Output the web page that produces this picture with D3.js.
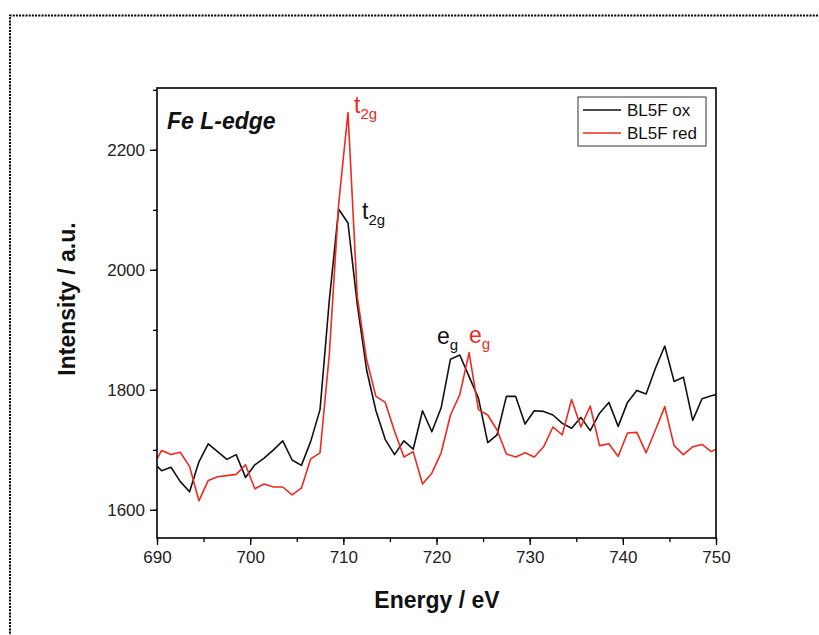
<!DOCTYPE html>
<html>
<head>
<meta charset="utf-8">
<script src="https://cdn.jsdelivr.net/npm/d3@7"></script>
<style>
  body { margin: 0; background: #fff; }
  svg { display: block; font-family: "Liberation Sans", Arial, sans-serif; }
</style>
</head>
<body>
<div id="chart"></div>
<script>
// Energy values (eV) shared by both spectra
const energy = [
    690.0, 690.5, 691.5, 692.5, 693.5, 694.5, 695.5, 696.5, 697.5, 698.5,
    699.5, 700.5, 701.5, 702.5, 703.5, 704.5, 705.5, 706.5, 707.5, 708.5,
    709.5, 710.5, 711.5, 712.5, 713.5, 714.5, 715.5, 716.5, 717.5, 718.5,
    719.5, 720.5, 721.5, 722.5, 723.5, 724.5, 725.5, 726.5, 727.5, 728.5,
    729.5, 730.5, 731.5, 732.5, 733.5, 734.5, 735.5, 736.5, 737.5, 738.5,
    739.5, 740.5, 741.5, 742.5, 743.5, 744.5, 745.5, 746.5, 747.5, 748.5,
    749.5, 750.0
];

const oxValues = [
    1673, 1665, 1671, 1647, 1630, 1680, 1710, 1697, 1684, 1692,
    1654, 1675, 1686, 1700, 1715, 1683, 1674, 1714, 1767, 1950,
    2101, 2078, 1942, 1833, 1765, 1717, 1692, 1715, 1701, 1765,
    1730, 1770, 1851, 1858, 1822, 1786, 1712, 1725, 1789, 1789,
    1743, 1765, 1764, 1758, 1744, 1736, 1754, 1732, 1761, 1779,
    1739, 1779, 1799, 1793, 1836, 1873, 1814, 1821, 1749, 1785,
    1790, 1792
];

const redValues = [
    1685, 1699, 1692, 1696, 1672, 1615, 1649, 1655, 1657, 1659,
    1675, 1635, 1643, 1638, 1638, 1625, 1636, 1685, 1695, 1860,
    2110, 2262, 1955, 1850, 1789, 1779, 1731, 1688, 1697, 1643,
    1661, 1695, 1758, 1792, 1862, 1767, 1758, 1733, 1693, 1688,
    1695, 1688, 1705, 1738, 1725, 1784, 1738, 1773, 1707, 1710,
    1689, 1728, 1729, 1695, 1733, 1772, 1707, 1692, 1705, 1709,
    1697, 1701
];

const xTicks = [690, 700, 710, 720, 730, 740, 750];
const yTicks = [1600, 1800, 2000, 2200];
const seriesNames = ['BL5F ox', 'BL5F red'];

const w = 819;
const h = 635;
const padLeft = 157, padRight = 716, padTop = 88, padBottom = 538;

const svg = d3.select('#chart')
    .append('svg')
    .attr('width', w)
    .attr('height', h);

// dotted page border (top and left edges visible)
svg.append('path')
    .attr('d', 'M10,' + (h + 5) + ' V15.5 H' + (w + 5))
    .attr('fill', 'none')
    .attr('stroke', '#000')
    .attr('stroke-width', 2)
    .attr('stroke-dasharray', '2,1.2');

const xScale = d3.scaleLinear()
    .domain([690, 750])
    .range([padLeft, padRight]);

const yScale = d3.scaleLinear()
    .domain([1553, 2303])
    .range([padBottom, padTop]);

// minor ticks first, majors drawn over them
const xAxisMinor = d3.axisBottom(xScale)
    .tickValues(d3.range(690, 751, 5))
    .tickSize(4)
    .tickFormat('');
const yAxisMinor = d3.axisLeft(yScale)
    .tickValues(d3.range(1600, 2301, 100))
    .tickSize(4)
    .tickFormat('');

const xAxis = d3.axisBottom(xScale)
    .tickValues(xTicks)
    .tickSize(7)
    .tickPadding(6)
    .tickFormat(d3.format('d'));
const yAxis = d3.axisLeft(yScale)
    .tickValues(yTicks)
    .tickSize(7)
    .tickPadding(5)
    .tickFormat(d3.format('d'));

[xAxisMinor, xAxis].forEach((ax) => {
    svg.append('g')
        .attr('transform', 'translate(0,' + padBottom + ')')
        .attr('class', 'bottomAxis')
        .call(ax);
});
[yAxisMinor, yAxis].forEach((ax) => {
    svg.append('g')
        .attr('transform', 'translate(' + padLeft + ',0)')
        .attr('class', 'leftAxis')
        .call(ax);
});

svg.selectAll('.domain').remove();
svg.selectAll('.tick line').attr('stroke', '#000').attr('stroke-width', 1.3);
svg.selectAll('.tick text')
    .attr('font-size', 17)
    .attr('fill', '#222')
    .attr('font-family', '"Liberation Sans", Arial, sans-serif');

// clip the lines to the frame
svg.append('clipPath')
    .attr('id', 'plotClip')
    .append('rect')
    .attr('x', padLeft)
    .attr('y', padTop)
    .attr('width', padRight - padLeft)
    .attr('height', padBottom - padTop);

const line = d3.line()
    .x((d) => xScale(d[0]))
    .y((d) => yScale(d[1]));

const oxData = energy.map((e, i) => [e, oxValues[i]]);
const redData = energy.map((e, i) => [e, redValues[i]]);

svg.append('path')
    .datum(oxData)
    .attr('clip-path', 'url(#plotClip)')
    .attr('fill', 'none')
    .attr('stroke', '#111')
    .attr('stroke-width', 1.6)
    .attr('stroke-linejoin', 'round')
    .attr('d', line);

svg.append('path')
    .datum(redData)
    .attr('clip-path', 'url(#plotClip)')
    .attr('fill', 'none')
    .attr('stroke', '#ee2a1e')
    .attr('stroke-width', 1.6)
    .attr('stroke-linejoin', 'round')
    .attr('d', line);

// plot frame
svg.append('rect')
    .attr('x', padLeft)
    .attr('y', padTop)
    .attr('width', padRight - padLeft)
    .attr('height', padBottom - padTop)
    .attr('fill', 'none')
    .attr('stroke', '#000')
    .attr('stroke-width', 1.6);

// axis titles
svg.append('text')
    .attr('x', 437)
    .attr('y', 608)
    .attr('text-anchor', 'middle')
    .attr('font-size', 23)
    .attr('font-weight', 'bold')
    .attr('fill', '#111')
    .text('Energy / eV');

svg.append('text')
    .attr('transform', 'translate(75,299) rotate(-90)')
    .attr('text-anchor', 'middle')
    .attr('font-size', 23)
    .attr('font-weight', 'bold')
    .attr('fill', '#111')
    .text('Intensity / a.u.');

svg.append('text')
    .attr('x', 167)
    .attr('y', 129)
    .attr('font-size', 23)
    .attr('font-weight', 'bold')
    .attr('font-style', 'italic')
    .attr('fill', '#111')
    .text('Fe L-edge');

// peak labels
function peakLabel(x, y, main, sub, color) {
    const t = svg.append('text')
        .attr('x', x)
        .attr('y', y)
        .attr('font-size', 23)
        .attr('fill', color);
    t.append('tspan').text(main);
    t.append('tspan')
        .attr('font-size', 15)
        .attr('dy', 6)
        .text(sub);
}
peakLabel(354, 113, 't', '2g', '#ee2a1e');
peakLabel(362, 219, 't', '2g', '#111');
peakLabel(437, 344, 'e', 'g', '#111');
peakLabel(469, 343, 'e', 'g', '#ee2a1e');

// legend
const legend = svg.append('g');
legend.append('rect')
    .attr('x', 578)
    .attr('y', 97)
    .attr('width', 128)
    .attr('height', 49)
    .attr('fill', '#fff')
    .attr('stroke', '#333')
    .attr('stroke-width', 1);

const legendColors = ['#111', '#ee2a1e'];
seriesNames.forEach((name, i) => {
    const yy = 110 + i * 23;
    legend.append('line')
        .attr('x1', 583)
        .attr('x2', 621)
        .attr('y1', yy)
        .attr('y2', yy)
        .attr('stroke', legendColors[i])
        .attr('stroke-width', 1.6);
    legend.append('text')
        .attr('x', 627)
        .attr('y', yy + 6)
        .attr('font-size', 17)
        .attr('fill', '#111')
        .text(name);
});
</script>
</body>
</html>
